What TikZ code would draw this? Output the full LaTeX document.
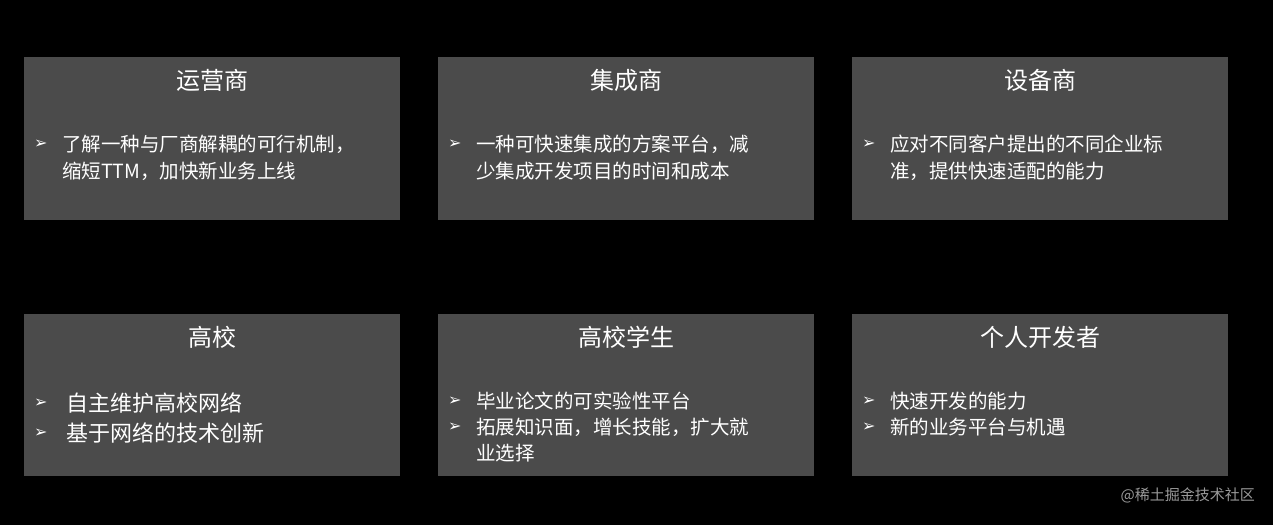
\documentclass[tikz,border=0pt]{standalone}
\usepackage{fontspec}
\setmainfont{Noto Sans CJK SC}
\newfontfamily\symfont{DejaVu Sans}
\begin{document}
\begin{tikzpicture}[x=1pt,y=-1pt,
  box/.style={fill=boxgray,draw=none},
  ttl/.style={text=white,font=\fontsize{24}{28}\selectfont,anchor=center},
  txt/.style={text=white,font=\fontsize{19.5}{27}\selectfont,anchor=west,inner sep=0pt},
  bul/.style={text=white,font=\fontsize{16}{20}\selectfont\symfont,anchor=west,inner sep=0pt}]
\definecolor{boxgray}{HTML}{4B4B4B}
\fill[black] (0,0) rectangle (1273,525);
\useasboundingbox (0,0) rectangle (1273,525);
% row 1
\fill[box] (24,57) rectangle (400,220); \node[ttl] (t1) at (212,80) {运营商};
\fill[box] (438,57) rectangle (814,220); \node[ttl] (t2) at (626,80) {集成商};
\fill[box] (852,57) rectangle (1228,220); \node[ttl] (t3) at (1040,80) {设备商};
\node[bul] (b1) at (34,144) {➢}; \node[txt] (l1) at (62,144) {了解一种与厂商解耦的可行机制，};
\node[txt] (l2) at (62,171) {缩短TTM，加快新业务上线};
\node[bul] (b2) at (448,144) {➢}; \node[txt] (l3) at (476,144) {一种可快速集成的方案平台，减};
\node[txt] (l4) at (476,171) {少集成开发项目的时间和成本};
\node[bul] (b3) at (862,144) {➢}; \node[txt] (l5) at (890,144) {应对不同客户提出的不同企业标};
\node[txt] (l6) at (890,171) {准，提供快速适配的能力};
% row 2
\fill[box] (24,314) rectangle (400,476); \node[ttl] (t4) at (212,337) {高校};
\fill[box] (438,314) rectangle (814,476); \node[ttl] (t5) at (626,337) {高校学生};
\fill[box] (852,314) rectangle (1228,476); \node[ttl] (t6) at (1040,337) {个人开发者};
\node[bul] (b4) at (34,403) {➢}; \node[txt] (m1) at (66,403) {\fontsize{22}{27}\selectfont 自主维护高校网络};
\node[bul] (b5) at (34,433) {➢}; \node[txt] (m2) at (66,433) {\fontsize{22}{27}\selectfont 基于网络的技术创新};
\node[bul] (b6) at (448,401) {➢}; \node[txt] (m3) at (476,401) {毕业论文的可实验性平台};
\node[bul] (b7) at (448,427) {➢}; \node[txt] (m4) at (476,427) {拓展知识面，增长技能，扩大就};
\node[txt] (m5) at (476,453) {业选择};
\node[bul] (b8) at (862,401) {➢}; \node[txt] (m6) at (890,401) {快速开发的能力};
\node[bul] (b9) at (862,427) {➢}; \node[txt] (m7) at (890,427) {新的业务平台与机遇};
\node[anchor=east,text=gray!80,font=\fontsize{15}{18}\selectfont,inner sep=0pt] (wm) at (1255,495) {@稀土掘金技术社区};
\end{tikzpicture}
\end{document}
